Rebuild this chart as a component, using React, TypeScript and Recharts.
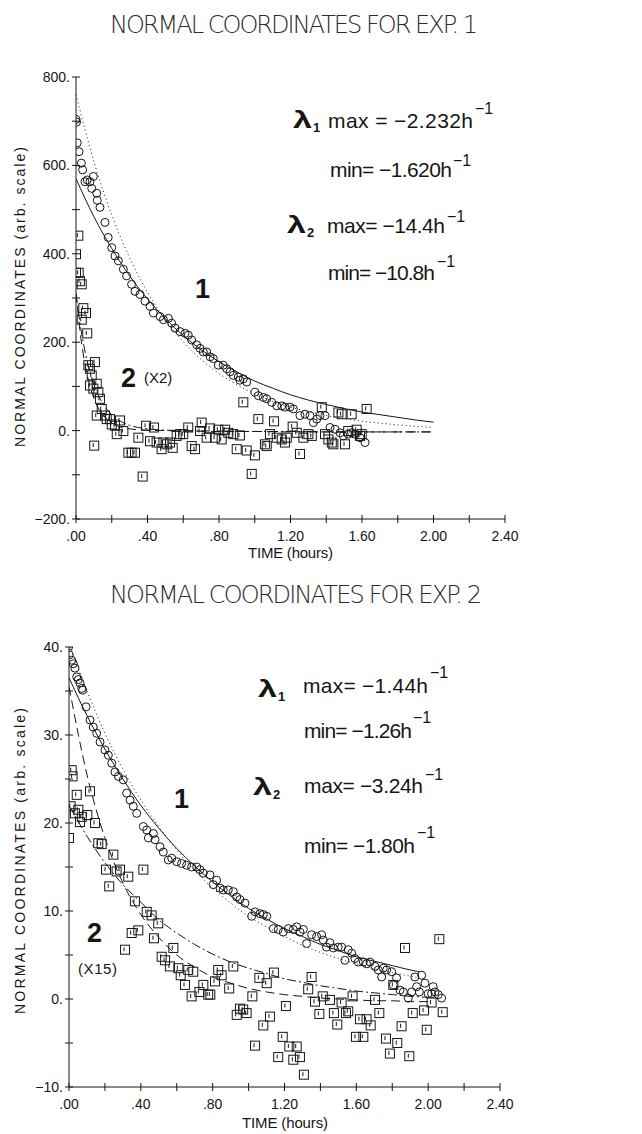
import { ComposedChart, Line, Scatter, XAxis, YAxis } from "recharts";

const INK = "#161616";
const FONT = "'Liberation Sans', Arial, Helvetica, sans-serif";

// ---- axes ----
const X_TICKS = [0, 0.2, 0.4, 0.6, 0.8, 1.0, 1.2, 1.4, 1.6, 1.8, 2.0, 2.2, 2.4];
const Y1_TICKS = [-200, -100, 0, 100, 200, 300, 400, 500, 600, 700, 800];
const Y2_TICKS = [-10, -5, 0, 5, 10, 15, 20, 25, 30, 35, 40];

// ---- Exp. 1 measured points [time h, value] ----
const exp1Mode1 = [
  [0, 704], [0.003, 698], [0.007, 651], [0.017, 631], [0.03, 605], [0.037, 590], [0.05, 563],
  [0.063, 567], [0.078, 563], [0.097, 575], [0.088, 548], [0.116, 537], [0.119, 521], [0.134, 505],
  [0.162, 471], [0.18, 437], [0.2, 414], [0.218, 395], [0.237, 384], [0.265, 365], [0.283, 350],
  [0.311, 331], [0.33, 315], [0.358, 308], [0.386, 293], [0.414, 281], [0.433, 266], [0.47, 258],
  [0.489, 251], [0.517, 254], [0.535, 243], [0.554, 232], [0.582, 224], [0.61, 220], [0.628, 216],
  [0.647, 205], [0.675, 194], [0.694, 186], [0.712, 178], [0.731, 178], [0.75, 167], [0.768, 163],
  [0.796, 148], [0.824, 148], [0.843, 140], [0.862, 133], [0.88, 125], [0.908, 121], [0.917, 114],
  [0.936, 117], [0.955, 110], [1.001, 87], [1.02, 79], [1.048, 75], [1.067, 72], [1.095, 64],
  [1.123, 56], [1.151, 56], [1.169, 53], [1.197, 53], [1.216, 49], [1.253, 34], [1.281, 37],
  [1.309, 34], [1.328, 18], [1.347, 26], [1.365, 34], [1.393, 34], [1.421, 7], [1.449, 3],
  [1.477, -5], [1.495, -12], [1.523, -8], [1.542, -5], [1.561, -8], [1.589, -16], [1.617, -27],
];
const exp1Mode2 = [
  [0, 399], [0.013, 441], [0, 357], [0.015, 357], [0.022, 338], [0.032, 331], [0.041, 277],
  [0.056, 266], [0.032, 251], [0.063, 220], [0.069, 148], [0.106, 155], [0.078, 140], [0.088, 125],
  [0.078, 102], [0.097, 95], [0.116, 106], [0.125, 87], [0.134, 72], [0.116, 34], [0.144, 49],
  [0.162, 34], [0.172, 26], [0.19, 26], [0.2, 14], [0.218, 11], [0.246, 23], [0.228, -8],
  [0.265, -1], [0.102, -34], [0.293, -50], [0.311, -50], [0.33, -50], [0.349, -16], [0.373, -104],
  [0.392, 11], [0.436, 7], [0.414, -24], [0.451, -27], [0.479, -42], [0.489, -27], [0.507, -31],
  [0.526, -27], [0.541, -39], [0.563, -12], [0.582, -8], [0.6, -8], [0.628, 7], [0.647, -35],
  [0.666, -42], [0.703, 18], [0.694, -1], [0.731, -16], [0.75, 5], [0.778, -16], [0.796, 2],
  [0.815, -20], [0.834, 2], [0.852, -5], [0.88, -8], [0.899, -42], [0.917, -11], [0.936, 64],
  [0.955, -45], [0.983, -98], [1.001, -56], [1.02, 26], [1.057, -31], [1.067, -35], [1.085, -8],
  [1.108, 21], [1.123, -16], [1.151, -20], [1.169, -27], [1.179, -16], [1.212, 9], [1.235, -5],
  [1.253, -53], [1.272, -16], [1.3, -8], [1.319, -12], [1.375, 53], [1.393, -8], [1.412, -20],
  [1.431, -27], [1.44, -31], [1.468, 41], [1.486, 37], [1.505, -31], [1.523, -1], [1.542, 37],
  [1.57, 2], [1.589, -12], [1.598, -8], [1.626, 49],
];

// ---- Exp. 2 measured points ----
const exp2Mode1 = [
  [0, 40.1], [0.001, 39.1], [0.015, 38.5], [0.024, 38.1], [0.033, 37.6], [0.043, 36.6], [0.052, 36.3],
  [0.061, 35.9], [0.071, 35.3], [0.076, 35.1], [0.095, 33.2], [0.117, 31.7], [0.135, 30.9],
  [0.154, 30.2], [0.173, 29.2], [0.2, 28.3], [0.219, 27.7], [0.238, 26.8], [0.256, 25.8],
  [0.275, 25.3], [0.302, 24.9], [0.321, 23.4], [0.34, 22.6], [0.358, 21.9], [0.377, 21.1],
  [0.414, 19.6], [0.433, 19.2], [0.442, 18.3], [0.47, 18.8], [0.479, 18.1], [0.507, 17.3],
  [0.525, 16.7], [0.553, 15.8], [0.572, 16.0], [0.6, 15.6], [0.627, 15.4], [0.655, 15.2],
  [0.683, 15.0], [0.711, 15.0], [0.729, 14.7], [0.748, 14.3], [0.785, 14.1], [0.803, 13.0],
  [0.822, 13.5], [0.841, 12.6], [0.859, 12.4], [0.887, 12.4], [0.915, 12.2], [0.934, 11.6],
  [0.952, 11.3], [0.98, 10.9], [1.017, 9.4], [1.036, 9.9], [1.063, 9.7], [1.082, 9.6], [1.101, 9.4],
  [1.138, 8.0], [1.165, 7.9], [1.193, 7.6], [1.221, 8.0], [1.249, 7.9], [1.268, 8.2], [1.286, 7.6],
  [1.305, 7.9], [1.323, 6.3], [1.351, 7.3], [1.379, 7.1], [1.407, 7.3], [1.416, 6.7], [1.434, 5.9],
  [1.453, 6.4], [1.472, 5.8], [1.499, 5.9], [1.518, 5.9], [1.536, 4.4], [1.555, 5.6], [1.574, 5.2],
  [1.592, 4.6], [1.611, 4.2], [1.639, 4.2], [1.657, 4.0], [1.676, 4.2], [1.704, 3.7], [1.722, 3.3],
  [1.741, 2.5], [1.75, 3.5], [1.769, 3.3], [1.797, 3.1], [1.806, 1.6], [1.824, 2.4], [1.843, 1.0],
  [1.862, 0.8], [1.889, 0.1], [1.908, 0.8], [1.926, 2.5], [1.936, 1.4], [1.951, 0.8], [1.964, 2.7],
  [1.982, 1.8], [2.0, 0.6], [2.019, 0.6], [2.028, 1.4], [2.038, 0.8], [2.056, 0.5], [2.075, 0.1],
];
const exp2Mode2 = [
  [0, 18.3], [0.009, 21.9], [0.015, 26.0], [0.02, 25.3], [0.033, 21.1], [0.043, 23.2], [0.052, 21.5],
  [0.061, 20.1], [0.071, 20.7], [0.102, 20.9], [0.117, 23.6], [0.145, 20.0], [0.163, 17.7],
  [0.182, 17.6], [0.247, 16.4], [0.206, 14.7], [0.224, 12.8], [0.265, 14.5], [0.284, 14.7],
  [0.33, 13.9], [0.414, 14.7], [0.367, 11.1], [0.433, 9.9], [0.46, 9.5], [0.497, 8.6], [0.349, 7.5],
  [0.386, 7.8], [0.312, 5.6], [0.473, 6.9], [0.516, 4.8], [0.535, 4.4], [0.562, 3.7], [0.581, 5.8],
  [0.609, 3.5], [0.622, 2.7], [0.646, 1.6], [0.664, 3.3], [0.692, 3.1], [0.683, 0.3], [0.726, 0.8],
  [0.748, 1.6], [0.775, 0.5], [0.787, 0.5], [0.813, 2.0], [0.831, 3.3], [0.85, 2.7], [0.892, 1.2],
  [0.915, 3.7], [0.934, -1.8], [0.952, -1.1], [0.97, -1.2], [0.989, -1.6], [1.021, 0.3], [1.036, -5.3],
  [1.06, 2.4], [1.082, -3.0], [1.101, 1.8], [1.119, -2.0], [1.141, 3.0], [1.165, -6.6], [1.19, -4.3],
  [1.208, -0.8], [1.227, -5.4], [1.249, -6.9], [1.268, -5.4], [1.286, -6.6], [1.308, -8.6],
  [1.332, 1.1], [1.351, 2.5], [1.37, -0.3], [1.394, -1.7], [1.413, 0.3], [1.453, -0.1], [1.475, -1.6],
  [1.494, -2.9], [1.518, -0.4], [1.542, -1.6], [1.555, -1.4], [1.579, 0.3], [1.598, -4.3], [1.62, -2.3],
  [1.639, -4.3], [1.657, -2.3], [1.68, -3.0], [1.704, -0.1], [1.728, -1.6], [1.765, -4.5],
  [1.787, -6.2], [1.806, 1.6], [1.828, -5.0], [1.852, -3.1], [1.871, 5.8], [1.895, -6.5],
  [1.914, -1.6], [1.977, -1.3], [1.992, -3.5], [2.019, -0.4], [2.062, 6.8], [2.081, -1.5],
];

// ---- fitted curves ----
const T_FIT = [0, 0.1, 0.2, 0.3, 0.4, 0.5, 0.6, 0.7, 0.8, 0.9, 1.0, 1.1, 1.2, 1.3, 1.4, 1.5, 1.6, 1.7, 1.8, 1.9, 2.0];
const T_FIT2 = [0, 0.1, 0.2, 0.3, 0.4, 0.5, 0.6, 0.7, 0.8, 0.9, 1.0, 1.1, 1.2, 1.3, 1.4, 1.5, 1.6, 1.7, 1.8, 1.9, 1.95];
const T_FAST = [0, 0.025, 0.05, 0.075, 0.1, 0.125, 0.15, 0.175, 0.2, 0.25, 0.3, 0.4, 0.5, 0.6, 0.8, 1.0, 1.2, 1.4, 1.6, 1.8, 2.0];

const exp1SlowMin = [570, 484, 412, 350, 298, 253, 215, 183, 156, 133, 112, 96, 81, 69, 59, 50, 42, 36, 30, 24, 19];
const exp1SlowMax = [760, 609, 488, 391, 313, 251, 201, 161, 129, 104, 83, 66, 53, 43, 34, 27, 21, 17, 13, 10, 7];
const exp1FastMax = [310, 216, 151, 105, 73, 51, 36, 25, 17, 8, 4, 1, 0, -1, -2, -2, -3, -3, -3, -3, -3];
const exp1FastMin = [310, 236, 180, 138, 105, 80, 61, 47, 36, 21, 12, 4, 1, 0, -1, -2, -2, -3, -3, -3, -3];

const exp2SlowMin = [36.5, 32.2, 28.4, 25.0, 22.0, 19.4, 17.1, 15.1, 13.3, 11.7, 10.3, 9.1, 8.0, 7.1, 6.2, 5.5, 4.8, 4.3, 3.8, 3.3, 3.1];
const exp2SlowMax = [40.5, 35.0, 30.2, 26.1, 22.6, 19.6, 16.9, 14.6, 12.6, 10.9, 9.4, 8.2, 7.1, 6.1, 5.3, 4.6, 4.0, 3.4, 3.0, 2.6, 2.4];
const exp2FastMax = [35.5, 25.5, 18.3, 13.2, 9.6, 7.0, 5.0, 3.6, 2.5, 1.8, 1.2, 0.8, 0.5, 0.3, 0.1, 0, -0.1, -0.2, -0.2, -0.3, -0.3];
const exp2FastMin = [22.0, 18.5, 15.5, 13.0, 11.0, 9.0, 7.5, 6.2, 5.1, 4.2, 3.5, 2.9, 2.3, 1.9, 1.5, 1.2, 0.9, 0.7, 0.5, 0.3, 0.2];

const pts = (a: number[][]) => a.map(([x, y]) => ({ x, y }));
const curve = (t: number[], v: number[]) => t.map((x, i) => ({ x, y: v[i] }));

const DOTTED = "1 3";
const DASHED = "9 5";
const DASHDOT = "9 3 2 3";

const fmtTime = (v: number) => {
  const c = Math.round(v * 100);
  if (c % 40 !== 0) return "";
  return c < 100 ? "." + String(c).padStart(2, "0") : (c / 100).toFixed(2);
};
const fmtCoord = (step: number) => (v: number) =>
  v % step !== 0 ? "" : (v < 0 ? "\u2212" : "") + Math.abs(v) + ".";

const crossX = (fmt?: (v: number) => string) => (p: any) => {
  const label = fmt ? fmt(p.payload.value) : "";
  return (
    <g>
      <line x1={p.x} x2={p.x} y1={p.y - 4} y2={p.y + 4} stroke={INK} />
      {label ? (
        <text x={p.x} y={p.y + 22} textAnchor="middle" fontFamily={FONT} fontSize={14} fill={INK}>
          {label}
        </text>
      ) : null}
    </g>
  );
};
const crossY = (fmt?: (v: number) => string) => (p: any) => {
  const label = fmt ? fmt(p.payload.value) : "";
  return (
    <g>
      <line x1={p.x - 4} x2={p.x + 4} y1={p.y} y2={p.y} stroke={INK} />
      {label ? (
        <text x={p.x - 6} y={p.y + 5} textAnchor="end" fontFamily={FONT} fontSize={14} fill={INK}>
          {label}
        </text>
      ) : null}
    </g>
  );
};

const circleMark = (p: any) => <circle cx={p.cx} cy={p.cy} r={4} fill="none" stroke={INK} strokeWidth={1} />;
const squareMark = (p: any) => (
  <g>
    <rect x={p.cx - 4.5} y={p.cy - 4.5} width={9} height={9} fill="none" stroke={INK} strokeWidth={1} />
    <line x1={p.cx - 1} x2={p.cx - 1} y1={p.cy - 2.5} y2={p.cy + 1.5} stroke={INK} strokeWidth={1} />
  </g>
);

type Curve = { data: { x: number; y: number }[]; dash?: string };

function Panel(props: {
  height: number;
  margin: { top: number; right: number; bottom: number; left: number };
  yDomain: [number, number];
  yTicks: number[];
  yStep: number;
  circles: { x: number; y: number }[];
  squares: { x: number; y: number }[];
  curves: Curve[];
}) {
  const { height, margin, yDomain, yTicks, yStep, circles, squares, curves } = props;
  return (
    <ComposedChart width={642} height={height} margin={margin}>
      <XAxis
        type="number" dataKey="x" domain={[0, 2.4]} ticks={X_TICKS} interval={0}
        tickLine={false} tickSize={0} tickMargin={0} height={30}
        axisLine={{ stroke: INK }} tick={crossX(fmtTime)} allowDataOverflow
      />
      <XAxis
        xAxisId="top" orientation="top" type="number" dataKey="x" domain={[0, 2.4]} ticks={X_TICKS}
        interval={0} tickLine={false} tickSize={0} tickMargin={0} height={0}
        axisLine={{ stroke: INK }} tick={crossX()}
      />
      <YAxis
        type="number" domain={yDomain} ticks={yTicks} interval={0} tickLine={false}
        tickSize={0} tickMargin={0} width={60} axisLine={{ stroke: INK }}
        tick={crossY(fmtCoord(yStep))} allowDataOverflow
      />
      <YAxis
        yAxisId="right" orientation="right" type="number" domain={yDomain} ticks={yTicks}
        interval={0} tickLine={false} tickSize={0} tickMargin={0} width={0}
        axisLine={{ stroke: INK }} tick={crossY()}
      />
      {curves.map((c, i) => (
        <Line
          key={i} data={c.data} dataKey="y" type="monotone" stroke={INK} strokeWidth={1}
          strokeDasharray={c.dash} dot={false} activeDot={false} isAnimationActive={false}
        />
      ))}
      <Scatter data={circles} dataKey="y" shape={circleMark} isAnimationActive={false} />
      <Scatter data={squares} dataKey="y" shape={squareMark} isAnimationActive={false} />
    </ComposedChart>
  );
}

const txt = { fontFamily: FONT, fill: INK };

function Lam(props: { x: number; y: number; sub: string }) {
  return (
    <>
      <text x={props.x} y={props.y} fontSize={24} fontWeight="bold" textLength={19} lengthAdjust="spacingAndGlyphs" {...txt}>λ</text>
      <text x={props.x + 20} y={props.y + 4} fontSize={13} fontWeight="bold" {...txt}>{props.sub}</text>
    </>
  );
}

function Rate(props: { x: number; y: number; w: number; text: string; supX: number; supY: number }) {
  return (
    <>
      <text x={props.x} y={props.y} fontSize={21} textLength={props.w} {...txt}>{props.text}</text>
      <text x={props.supX} y={props.supY} fontSize={16} {...txt}>{"\u22121"}</text>
    </>
  );
}

export default function App() {
  return (
    <div style={{ position: "absolute", left: 0, top: 0, width: 642, height: 1134, background: "#fff" }}>
      <div style={{ position: "absolute", left: 0, top: 0 }}>
        <Panel
          height={570}
          margin={{ top: 77, right: 137, bottom: 21, left: 16 }}
          yDomain={[-200, 800]}
          yTicks={Y1_TICKS}
          yStep={200}
          circles={pts(exp1Mode1)}
          squares={pts(exp1Mode2)}
          curves={[
            { data: curve(T_FIT, exp1SlowMin) },
            { data: curve(T_FIT, exp1SlowMax), dash: DOTTED },
            { data: curve(T_FAST, exp1FastMax), dash: DASHED },
            { data: curve(T_FAST, exp1FastMin), dash: DASHDOT },
          ]}
        />
      </div>
      <div style={{ position: "absolute", left: 0, top: 570 }}>
        <Panel
          height={564}
          margin={{ top: 77, right: 142, bottom: 17, left: 9 }}
          yDomain={[-10, 40]}
          yTicks={Y2_TICKS}
          yStep={10}
          circles={pts(exp2Mode1)}
          squares={pts(exp2Mode2)}
          curves={[
            { data: curve(T_FIT2, exp2SlowMin) },
            { data: curve(T_FIT2, exp2SlowMax), dash: DOTTED },
            { data: curve(T_FIT, exp2FastMax), dash: DASHED },
            { data: curve(T_FIT, exp2FastMin), dash: DASHDOT },
          ]}
        />
      </div>
      <svg
        width={642} height={1134}
        style={{ position: "absolute", left: 0, top: 0, pointerEvents: "none" }}
      >
        {/* titles */}
        <text x={110} y={33} fontSize={24} textLength={368} fontFamily="'DejaVu Sans', sans-serif" fontWeight={200} fill="#2a2a2a">
          NORMAL COORDINATES FOR EXP. 1
        </text>
        <text x={110} y={603} fontSize={24} textLength={372} fontFamily="'DejaVu Sans', sans-serif" fontWeight={200} fill="#2a2a2a">
          NORMAL COORDINATES FOR EXP. 2
        </text>

        {/* axis titles */}
        <text x={248} y={558} fontSize={15} textLength={85} {...txt}>TIME (hours)</text>
        <text x={242} y={1128} fontSize={15} textLength={86} {...txt}>TIME (hours)</text>
        <text transform="translate(25,297) rotate(-90)" textAnchor="middle" fontSize={14} textLength={300} {...txt}>
          NORMAL COORDINATES (arb. scale)
        </text>
        <text transform="translate(25,861) rotate(-90)" textAnchor="middle" fontSize={14} textLength={306} {...txt}>
          NORMAL COORDINATES (arb. scale)
        </text>

        {/* Exp. 1 notes */}
        <Lam x={293} y={128} sub="1" />
        <Rate x={328} y={128} w={145} text={"max = \u22122.232h"} supX={475} supY={114} />
        <Rate x={330} y={177} w={122} text={"min= \u22121.620h"} supX={453} supY={166} />
        <Lam x={287} y={233} sub="2" />
        <Rate x={327} y={233} w={118} text={"max= \u221214.4h"} supX={447} supY={222} />
        <Rate x={328} y={280} w={107} text={"min= \u221210.8h"} supX={437} supY={267} />
        <text x={195} y={298} fontSize={27} fontWeight="bold" {...txt}>1</text>
        <text x={121} y={387} fontSize={27} fontWeight="bold" {...txt}>2</text>
        <text x={144} y={383} fontSize={15} {...txt}>(X2)</text>

        {/* Exp. 2 notes */}
        <Lam x={258} y={697} sub="1" />
        <Rate x={303} y={693} w={125} text={"max= \u22121.44h"} supX={430} supY={678} />
        <Rate x={304} y={738} w={108} text={"min= \u22121.26h"} supX={413} supY={723} />
        <Lam x={253} y={795} sub="2" />
        <Rate x={304} y={793} w={119} text={"max= \u22123.24h"} supX={425} supY={780} />
        <Rate x={304} y={853} w={111} text={"min= \u22121.80h"} supX={417} supY={838} />
        <text x={174} y={808} fontSize={27} fontWeight="bold" {...txt}>1</text>
        <text x={87} y={942} fontSize={27} fontWeight="bold" {...txt}>2</text>
        <text x={78} y={974} fontSize={15} textLength={39} {...txt}>(X15)</text>
      </svg>
    </div>
  );
}
